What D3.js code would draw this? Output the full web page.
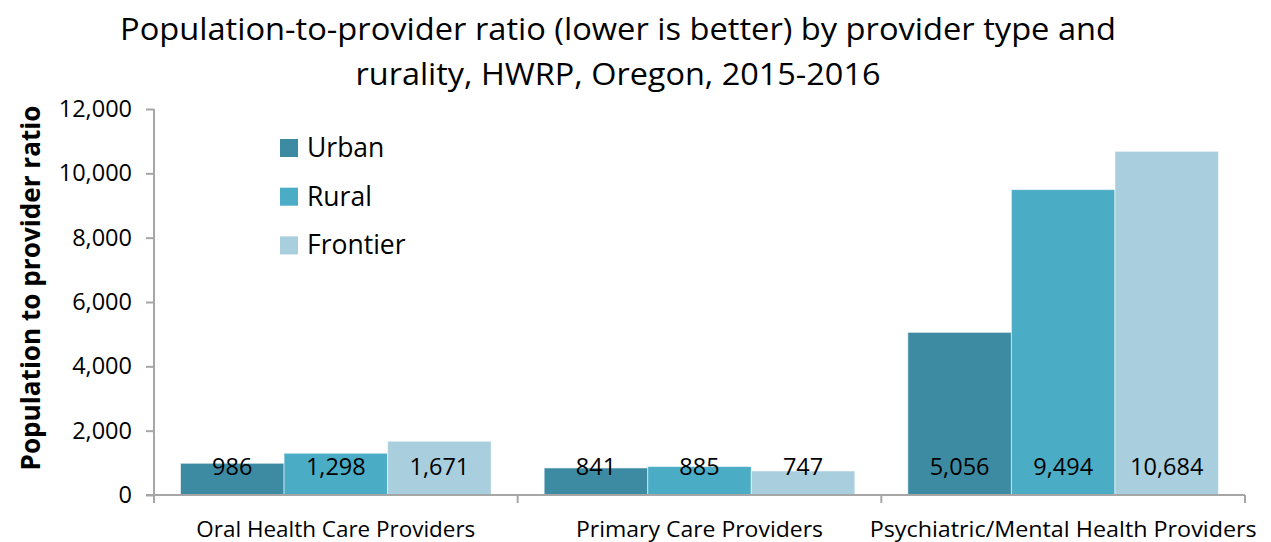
<!DOCTYPE html>
<html>
<head>
<meta charset="utf-8">
<script src="https://cdn.jsdelivr.net/npm/d3@7"></script>
<style>
  html, body { margin: 0; padding: 0; background: #ffffff; }
  svg { display: block; font-family: "Open Sans", "Noto Sans", sans-serif; }
</style>
</head>
<body>
<svg id="chart" width="1271" height="542"></svg>
<script>
// Provider categories and rurality series
const categories = ["Oral Health Care Providers", "Primary Care Providers", "Psychiatric/Mental Health Providers"];
const seriesNames = ["Urban", "Rural", "Frontier"];
const urbanValues = [986, 841, 5056];
const ruralValues = [1298, 885, 9494];
const frontierValues = [1671, 747, 10684];
const yTickValues = [0, 2000, 4000, 6000, 8000, 10000, 12000];
const titleLines = [
  "Population-to-provider ratio (lower is better) by provider type and",
  "rurality, HWRP, Oregon, 2015-2016"
];
const yAxisTitle = "Population to provider ratio";

const seriesValues = { Urban: urbanValues, Rural: ruralValues, Frontier: frontierValues };
const colors = { Urban: "#3d8ba3", Rural: "#4bacc6", Frontier: "#a9cedd" };

const svg = d3.select("#chart");
const plot = { left: 154, right: 1245, top: 109, bottom: 495 };

const x0 = d3.scaleBand().domain(categories).range([plot.left, plot.right]).padding(0);
const groupPad = 26.5;
const x1 = d3.scaleBand().domain(seriesNames).range([groupPad, x0.bandwidth() - groupPad]).padding(0);
const y = d3.scaleLinear().domain([0, 12000]).range([plot.bottom, plot.top]);

const axisColor = "#a6a6a6";
const fmt = d3.format(",");

// Title
svg.append("g").selectAll("text")
  .data(titleLines)
  .join("text")
  .attr("x", 618)
  .attr("y", (d, i) => 40 + i * 45)
  .attr("text-anchor", "middle")
  .attr("font-size", 31)
  .attr("fill", "#000")
  .attr("textLength", (d, i) => i === 0 ? 996 : 525)
  .attr("lengthAdjust", "spacingAndGlyphs")
  .text(d => d);

// Bars
const rows = categories.map((c, i) => ({
  category: c,
  values: seriesNames.map(s => ({ series: s, value: seriesValues[s][i] }))
}));

const groups = svg.append("g").selectAll("g")
  .data(rows)
  .join("g")
  .attr("transform", d => `translate(${x0(d.category)},0)`);

groups.selectAll("rect")
  .data(d => d.values)
  .join("rect")
  .attr("x", d => x1(d.series))
  .attr("y", d => y(d.value))
  .attr("width", x1.bandwidth())
  .attr("height", d => y(0) - y(d.value))
  .attr("fill", d => colors[d.series])
  .attr("stroke", "#ffffff")
  .attr("stroke-opacity", 0.55)
  .attr("stroke-width", 1);

// Value labels sit at a fixed height near the baseline
groups.selectAll("text.value")
  .data(d => d.values)
  .join("text")
  .attr("class", "value")
  .attr("x", d => x1(d.series) + x1.bandwidth() / 2)
  .attr("y", 475)
  .attr("text-anchor", "middle")
  .attr("font-size", 23.5)
  .attr("fill", "#000")
  .text(d => fmt(d.value));

// Y axis
const yAxis = svg.append("g")
  .attr("transform", `translate(${plot.left},0)`)
  .call(d3.axisLeft(y).tickValues(yTickValues).tickSize(8).tickPadding(14).tickFormat(fmt));
yAxis.select(".domain").remove();
yAxis.selectAll(".tick line").attr("stroke", axisColor).attr("stroke-width", 2);
yAxis.selectAll(".tick text")
  .attr("font-size", 23.5)
  .attr("font-family", "'Open Sans', sans-serif")
  .attr("fill", "#000");
svg.append("line")
  .attr("x1", plot.left).attr("x2", plot.left)
  .attr("y1", plot.top).attr("y2", plot.bottom + 8)
  .attr("stroke", axisColor).attr("stroke-width", 2);

// X axis line and group boundary ticks
svg.append("line")
  .attr("x1", plot.left - 8).attr("x2", plot.right)
  .attr("y1", plot.bottom).attr("y2", plot.bottom)
  .attr("stroke", axisColor).attr("stroke-width", 2);

const boundaries = categories.map(c => x0(c) + x0.bandwidth());
svg.append("g").selectAll("line")
  .data(boundaries)
  .join("line")
  .attr("x1", d => d).attr("x2", d => d)
  .attr("y1", plot.bottom).attr("y2", plot.bottom + 8)
  .attr("stroke", axisColor).attr("stroke-width", 2);

// Category labels
const catWidths = [279, 247, 387];
svg.append("g").selectAll("text")
  .data(categories)
  .join("text")
  .attr("x", d => x0(d) + x0.bandwidth() / 2)
  .attr("y", 537)
  .attr("text-anchor", "middle")
  .attr("font-size", 21)
  .attr("fill", "#000")
  .attr("textLength", (d, i) => catWidths[i])
  .attr("lengthAdjust", "spacingAndGlyphs")
  .text(d => d);

// Y axis title
svg.append("text")
  .attr("transform", "translate(40,288) rotate(-90)")
  .attr("text-anchor", "middle")
  .attr("font-size", 27)
  .attr("font-weight", "bold")
  .attr("fill", "#000")
  .attr("textLength", 365)
  .attr("lengthAdjust", "spacingAndGlyphs")
  .text(yAxisTitle);

// Legend
const legend = svg.append("g").selectAll("g")
  .data(seriesNames)
  .join("g")
  .attr("transform", (d, i) => `translate(280,${139 + i * 48.7})`);
legend.append("rect")
  .attr("width", 18).attr("height", 18)
  .attr("fill", d => colors[d]);
legend.append("text")
  .attr("x", 27)
  .attr("y", 18)
  .attr("font-size", 26.5)
  .attr("fill", "#000")
  .text(d => d);
</script>
</body>
</html>
